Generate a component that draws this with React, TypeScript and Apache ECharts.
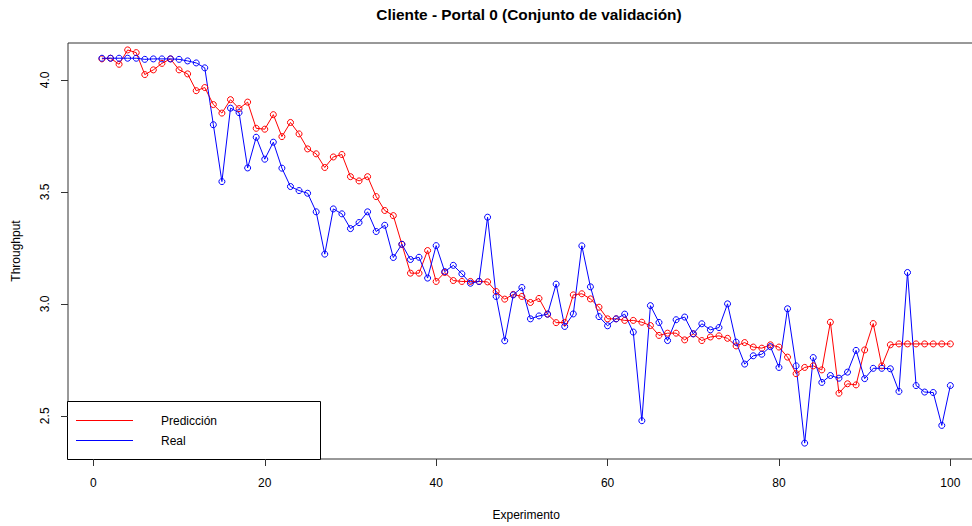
import React, { useEffect, useRef } from "react";
import * as echarts from "echarts";

const chartTitle = "Cliente - Portal 0 (Conjunto de validación)";
const xTitle = "Experimento";
const yTitle = "Throughput";
const seriesNames = ["Predicción", "Real"];
const xTicks = [0, 20, 40, 60, 80, 100];
const yTicks = [2.5, 3.0, 3.5, 4.0];

const prediccion = [
  4.094, 4.097, 4.07, 4.134, 4.122, 4.024, 4.045, 4.074, 4.094, 4.045,
  4.027, 3.952, 3.966, 3.89, 3.852, 3.912, 3.872, 3.901, 3.784, 3.78,
  3.845, 3.747, 3.81, 3.759, 3.692, 3.67, 3.609, 3.656, 3.667, 3.568,
  3.549, 3.568, 3.479, 3.417, 3.394, 3.266, 3.137, 3.137, 3.238, 3.1,
  3.14, 3.104, 3.1, 3.1, 3.1, 3.098, 3.055, 3.021, 3.042, 3.033,
  3.006, 3.024, 2.954, 2.916, 2.917, 3.04, 3.045, 3.022, 2.985, 2.933,
  2.933, 2.926, 2.926, 2.918, 2.903, 2.859, 2.869, 2.869, 2.839, 2.866,
  2.836, 2.852, 2.857, 2.846, 2.812, 2.827, 2.807, 2.802, 2.817, 2.807,
  2.762, 2.688, 2.716, 2.723, 2.705, 2.918, 2.601, 2.643, 2.638, 2.794,
  2.912, 2.723, 2.817, 2.821, 2.821, 2.821, 2.821, 2.821, 2.821, 2.821,
];

const real = [
  4.097, 4.097, 4.097, 4.097, 4.097, 4.092, 4.094, 4.094, 4.094, 4.092,
  4.085, 4.076, 4.054, 3.8, 3.546, 3.874, 3.854, 3.607, 3.744, 3.646,
  3.722, 3.606, 3.524, 3.506, 3.494, 3.411, 3.222, 3.424, 3.402, 3.336,
  3.363, 3.411, 3.323, 3.351, 3.207, 3.266, 3.198, 3.208, 3.115, 3.26,
  3.144, 3.172, 3.134, 3.092, 3.1, 3.387, 3.033, 2.835, 3.04, 3.073,
  2.933, 2.946, 2.954, 3.088, 2.899, 2.955, 3.259, 3.076, 2.943, 2.902,
  2.933, 2.954, 2.874, 2.478, 2.992, 2.917, 2.836, 2.929, 2.941, 2.866,
  2.911, 2.884, 2.894, 3.0, 2.829, 2.731, 2.768, 2.775, 2.809, 2.716,
  2.978, 2.723, 2.378, 2.76, 2.649, 2.68, 2.668, 2.695, 2.792, 2.666,
  2.712, 2.712, 2.71, 2.609, 3.14, 2.635, 2.606, 2.604, 2.457, 2.635,
];

const RED = "#FF0000";
const BLUE = "#0000FF";
const FONT = "Liberation Sans, Arial, sans-serif";

function toPairs(values: number[]) {
  return values.map((v, i) => [i + 1, v]);
}

export default function App() {
  const ref = useRef<HTMLDivElement>(null);

  useEffect(() => {
    if (!ref.current) return;
    const chart = echarts.init(ref.current, undefined, { renderer: "svg" });
    const lineSeries = (name: string, values: number[], color: string) => ({
      name,
      type: "line",
      data: toPairs(values),
      symbol: "circle",
      symbolSize: 6,
      showSymbol: true,
      lineStyle: { color, width: 1 },
      itemStyle: { color: "rgba(0,0,0,0)", borderColor: color, borderWidth: 1 },
      emphasis: { disabled: true },
      clip: true,
    });

    chart.setOption({
      animation: false,
      backgroundColor: "#ffffff",
      textStyle: { fontFamily: FONT },
      title: {
        text: chartTitle,
        left: 524,
        top: 2,
        textAlign: "center",
        textStyle: { fontFamily: FONT, fontSize: 15.4, fontWeight: "bold", color: "#000" },
      },
      grid: {
        left: 68,
        top: 43,
        right: 5.7,
        bottom: 67,
        show: true,
        borderColor: "#333",
        borderWidth: 1,
        backgroundColor: "transparent",
      },
      xAxis: {
        type: "value",
        min: -2.96,
        max: 103.96,
        name: xTitle,
        nameLocation: "middle",
        nameGap: 50,
        nameTextStyle: { fontFamily: FONT, fontSize: 12, color: "#000" },
        axisLine: { show: false, onZero: false },
        splitLine: { show: false },
        axisTick: {
          show: true,
          length: 7,
          customValues: xTicks,
          lineStyle: { color: "#333", width: 1 },
        },
        axisLabel: {
          customValues: xTicks,
          margin: 18,
          fontFamily: FONT,
          fontSize: 12,
          color: "#000",
        },
      },
      yAxis: {
        type: "value",
        min: 2.307,
        max: 4.165,
        name: yTitle,
        nameLocation: "middle",
        nameGap: 46,
        nameRotate: 90,
        nameTextStyle: { fontFamily: FONT, fontSize: 12, color: "#000" },
        axisLine: { show: false, onZero: false },
        splitLine: { show: false },
        axisTick: {
          show: true,
          length: 7,
          customValues: yTicks,
          lineStyle: { color: "#333", width: 1 },
        },
        axisLabel: {
          customValues: yTicks,
          rotate: 90,
          margin: 17,
          fontFamily: FONT,
          fontSize: 12,
          color: "#000",
          formatter: (v: number) => v.toFixed(1),
        },
      },
      series: [
        lineSeries(seriesNames[0], prediccion, RED),
        lineSeries(seriesNames[1], real, BLUE),
      ],
      graphic: [
        {
          type: "group",
          z: 100,
          children: [
            {
              type: "rect",
              shape: { x: 67.5, y: 401.5, width: 253, height: 58 },
              style: { fill: "#ffffff", stroke: "#000", lineWidth: 1 },
            },
            {
              type: "line",
              shape: { x1: 76, y1: 420.5, x2: 133, y2: 420.5 },
              style: { stroke: RED, lineWidth: 1 },
            },
            {
              type: "line",
              shape: { x1: 76, y1: 440.5, x2: 133, y2: 440.5 },
              style: { stroke: BLUE, lineWidth: 1 },
            },
            {
              type: "text",
              x: 161,
              y: 421,
              style: {
                text: seriesNames[0],
                fontFamily: FONT,
                fontSize: 12,
                fill: "#000",
                verticalAlign: "middle",
                align: "left",
              },
            },
            {
              type: "text",
              x: 161,
              y: 441,
              style: {
                text: seriesNames[1],
                fontFamily: FONT,
                fontSize: 12,
                fill: "#000",
                verticalAlign: "middle",
                align: "left",
              },
            },
          ],
        },
      ],
    });

    return () => chart.dispose();
  }, []);

  return (
    <div
      style={{
        position: "fixed",
        left: 0,
        top: 0,
        width: 972,
        height: 526,
        overflow: "hidden",
        background: "#fff",
      }}
    >
      <div ref={ref} style={{ width: 990, height: 526 }} />
    </div>
  );
}
